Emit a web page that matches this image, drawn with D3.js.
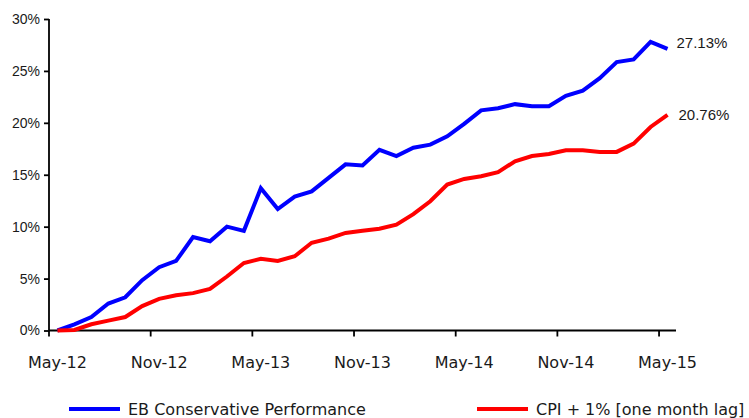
<!DOCTYPE html>
<html>
<head>
<meta charset="utf-8">
<script src="https://cdn.jsdelivr.net/npm/d3@7"></script>
<style>
  body { margin: 0; background: #fff; }
  svg { display: block; }
</style>
</head>
<body>
<div id="chart"></div>
<script>
// Data (cumulative %, monthly)
const months = [
  "May-12","Jun-12","Jul-12","Aug-12","Sep-12","Oct-12","Nov-12","Dec-12","Jan-13","Feb-13","Mar-13","Apr-13",
  "May-13","Jun-13","Jul-13","Aug-13","Sep-13","Oct-13","Nov-13","Dec-13","Jan-14","Feb-14","Mar-14","Apr-14",
  "May-14","Jun-14","Jul-14","Aug-14","Sep-14","Oct-14","Nov-14","Dec-14","Jan-15","Feb-15","Mar-15","Apr-15",
  "May-15"
];
const ebPerformance = [
  0.0, 0.6, 1.3, 2.6, 3.2, 4.85, 6.1, 6.7, 9.0, 8.6, 10.0, 9.6,
  13.7, 11.7, 12.9, 13.4, 14.7, 16.0, 15.9, 17.4, 16.8, 17.6, 17.9, 18.7,
  19.9, 21.2, 21.4, 21.8, 21.6, 21.6, 22.6, 23.1, 24.3, 25.85, 26.1, 27.8,
  27.13
];
const cpiPlus1 = [
  0.0, 0.05, 0.6, 0.95, 1.3, 2.35, 3.05, 3.4, 3.6, 4.0, 5.2, 6.5,
  6.9, 6.7, 7.15, 8.45, 8.85, 9.4, 9.6, 9.8, 10.2, 11.2, 12.45, 14.05,
  14.6, 14.85, 15.25, 16.3, 16.8, 17.0, 17.35, 17.35, 17.2, 17.2, 18.0, 19.6,
  20.76
];
const yTicks = [0, 5, 10, 15, 20, 25, 30];
const xTickLabels = ["May-12","Nov-12","May-13","Nov-13","May-14","Nov-14","May-15"];
const seriesNames = ["EB Conservative Performance", "CPI + 1% [one month lag]"];
const seriesColors = ["#0000ff", "#ff0000"];

const width = 749, height = 418;
const plotLeft = 49, plotRight = 676, plotTop = 19, plotBottom = 330.5;

const svg = d3.select("#chart").append("svg")
  .attr("width", width)
  .attr("height", height);

const x = d3.scaleBand().domain(months).range([plotLeft, plotRight]).paddingInner(0).paddingOuter(0);
const xc = (m) => x(m) + x.bandwidth() / 2;
const y = d3.scaleLinear().domain([0, 30]).range([plotBottom, plotTop]);

// y axis
const yAxis = svg.append("g")
  .attr("transform", `translate(${plotLeft},0)`)
  .call(d3.axisLeft(y).tickValues(yTicks).tickSize(5).tickPadding(4).tickFormat(d => d + "%"));
yAxis.select(".domain").attr("d", `M0,${plotTop}V${plotBottom}`);
yAxis.selectAll("path, line").attr("stroke", "#000").attr("stroke-width", 1.8);
yAxis.selectAll("text")
  .attr("font-family", "'Liberation Sans', Arial, sans-serif")
  .attr("font-size", 14)
  .attr("fill", "#1a1a1a");

// x axis: ticks on category boundaries, labels at category centres
const xAxis = svg.append("g")
  .attr("transform", `translate(0,${plotBottom})`)
  .call(d3.axisBottom(x).tickValues(xTickLabels).tickSize(6).tickSizeOuter(0));
xAxis.select(".domain").attr("d", `M${plotLeft},0H${plotRight}`);
xAxis.selectAll("path, line").attr("stroke", "#000").attr("stroke-width", 1.8);
xAxis.selectAll(".tick line").attr("transform", `translate(${-x.bandwidth() / 2},0)`);
xAxis.selectAll(".tick text")
  .attr("y", 37)
  .attr("dy", 0)
  .attr("font-family", "'DejaVu Sans', Verdana, sans-serif")
  .attr("font-size", 16)
  .attr("fill", "#1a1a1a");

// lines
const line = d3.line()
  .x((d, i) => xc(months[i]))
  .y(d => y(d));

[ebPerformance, cpiPlus1].forEach((vals, k) => {
  svg.append("path")
    .datum(vals)
    .attr("fill", "none")
    .attr("stroke", seriesColors[k])
    .attr("stroke-width", 4)
    .attr("stroke-linejoin", "miter")
    .attr("d", line);
});

// end labels
const endLabels = [
  { text: ebPerformance[ebPerformance.length - 1].toFixed(2) + "%", dx: 9, dy: -0.5 },
  { text: cpiPlus1[cpiPlus1.length - 1].toFixed(2) + "%", dx: 11, dy: 5 }
];
[ebPerformance, cpiPlus1].forEach((vals, k) => {
  const last = vals[vals.length - 1];
  svg.append("text")
    .attr("x", xc(months[months.length - 1]) + endLabels[k].dx)
    .attr("y", y(last) + endLabels[k].dy)
    .attr("font-family", "'Liberation Sans', Arial, sans-serif")
    .attr("font-size", 15)
    .attr("fill", "#1a1a1a")
    .text(endLabels[k].text);
});

// legend
const legendX = [69, 477];
seriesNames.forEach((name, k) => {
  const g = svg.append("g").attr("transform", `translate(${legendX[k]},409)`);
  g.append("line")
    .attr("x1", 0).attr("x2", 51)
    .attr("y1", 0).attr("y2", 0)
    .attr("stroke", seriesColors[k])
    .attr("stroke-width", 4);
  g.append("text")
    .attr("x", 59)
    .attr("y", 6)
    .attr("font-family", "'DejaVu Sans', Verdana, sans-serif")
    .attr("font-size", 16)
    .attr("fill", "#1a1a1a")
    .text(name);
});
</script>
</body>
</html>
